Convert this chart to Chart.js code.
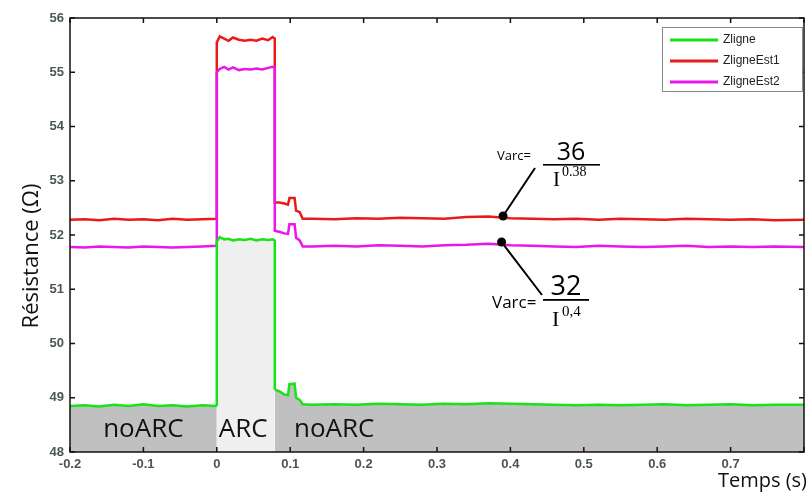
<!DOCTYPE html>
<html>
<head>
<meta charset="utf-8">
<script src="https://cdn.jsdelivr.net/npm/chart.js@4.4.0/dist/chart.umd.min.js"></script>
<style>
  html, body { margin: 0; padding: 0; background: #fff; }
  #wrap { width: 809px; height: 492px; }
</style>
</head>
<body>
<div id="wrap"><canvas id="chart" width="809" height="492"></canvas></div>
<script>
// time axis (s) - duplicated points give the vertical steps at arc start / end
const time = [
  -0.2, -0.18, -0.16, -0.14, -0.12, -0.1, -0.08, -0.06, -0.04, -0.02, 0,
  0, 0.004, 0.01, 0.016, 0.022, 0.03, 0.038, 0.046, 0.054, 0.062, 0.07, 0.076, 0.079,
  0.079, 0.085, 0.092, 0.097, 0.099, 0.106, 0.108, 0.113, 0.117,
  0.13, 0.16, 0.19, 0.22, 0.25, 0.28, 0.31, 0.34, 0.37, 0.40, 0.43, 0.46, 0.49,
  0.52, 0.55, 0.58, 0.61, 0.64, 0.67, 0.70, 0.73, 0.76, 0.8
];

const zligne = [
  48.85, 48.86, 48.84, 48.87, 48.85, 48.88, 48.85, 48.86, 48.84, 48.86, 48.85,
  51.88, 51.96, 51.92, 51.93, 51.90, 51.92, 51.91, 51.93, 51.90, 51.92, 51.91, 51.92, 51.90,
  49.15, 49.12, 49.06, 49.05, 49.25, 49.26, 49.00, 48.96, 48.88,
  48.87, 48.88, 48.87, 48.89, 48.88, 48.87, 48.89, 48.88, 48.90, 48.89, 48.88, 48.87, 48.86,
  48.87, 48.86, 48.87, 48.88, 48.86, 48.87, 48.88, 48.86, 48.87, 48.87
];

const zligneEst1 = [
  52.28, 52.29, 52.27, 52.30, 52.28, 52.29, 52.27, 52.30, 52.28, 52.29, 52.30,
  55.55, 55.66, 55.62, 55.58, 55.64, 55.60, 55.58, 55.60, 55.58, 55.62, 55.59, 55.65, 55.62,
  52.60, 52.60, 52.58, 52.56, 52.68, 52.68, 52.45, 52.42, 52.30,
  52.30, 52.29, 52.31, 52.30, 52.32, 52.31, 52.30, 52.33, 52.34, 52.31, 52.30, 52.29, 52.30,
  52.28, 52.30, 52.29, 52.28, 52.30, 52.29, 52.28, 52.29, 52.27, 52.28
];

const zligneEst2 = [
  51.78, 51.77, 51.79, 51.78, 51.77, 51.79, 51.78, 51.77, 51.78, 51.79, 51.80,
  55.00, 55.06, 55.10, 55.05, 55.09, 55.04, 55.06, 55.05, 55.07, 55.05, 55.08, 55.10, 55.08,
  52.08, 52.06, 52.03, 52.02, 52.20, 52.20, 51.95, 51.90, 51.79,
  51.79, 51.80, 51.79, 51.81, 51.80, 51.79, 51.81, 51.82, 51.84, 51.81, 51.80, 51.79, 51.78,
  51.80, 51.79, 51.78, 51.79, 51.80, 51.78, 51.79, 51.78, 51.79, 51.78
];

const seriesNames = ['Zligne', 'ZligneEst1', 'ZligneEst2'];
const seriesColors = ['#17e317', '#ea1a1a', '#ea17ea'];

// arc window and the two marked points
const arcStart = 0;
const arcEnd = 0.079;
const markerTime = [0.39, 0.388];
const markerValue = [52.35, 51.87];

const xTicks = [-0.2, -0.1, 0, 0.1, 0.2, 0.3, 0.4, 0.5, 0.6, 0.7, 0.8];
const yTicks = [48, 49, 50, 51, 52, 53, 54, 55, 56];

function toPoints(values) {
  return values.map((v, i) => ({ x: time[i], y: v }));
}

function inArc(ctx) {
  return ctx.p0.parsed.x >= arcStart && ctx.p1.parsed.x <= arcEnd + 0.0005;
}

// box, inward ticks, legend, annotations
const decorations = {
  id: 'decorations',
  afterDraw(chart) {
    const { ctx, chartArea: a, scales } = chart;
    const xs = scales.x, ys = scales.y;
    ctx.save();

    // region labels
    ctx.fillStyle = '#111';
    ctx.font = '26px "Open Sans"';
    ctx.textAlign = 'center';
    ctx.textBaseline = 'alphabetic';
    ctx.fillText('noARC', xs.getPixelForValue(-0.1), 437);
    ctx.fillText('ARC', xs.getPixelForValue(0.036), 437);
    ctx.fillText('noARC', xs.getPixelForValue(0.16), 437);

    // plot box
    ctx.strokeStyle = '#111';
    ctx.lineWidth = 1.5;
    ctx.strokeRect(a.left, a.top, a.right - a.left, a.bottom - a.top);

    // inward ticks
    ctx.beginPath();
    xTicks.forEach(t => {
      const px = xs.getPixelForValue(t);
      ctx.moveTo(px, a.bottom); ctx.lineTo(px, a.bottom - 5);
      ctx.moveTo(px, a.top); ctx.lineTo(px, a.top + 5);
    });
    yTicks.forEach(v => {
      const py = ys.getPixelForValue(v);
      ctx.moveTo(a.left, py); ctx.lineTo(a.left + 5, py);
      ctx.moveTo(a.right, py); ctx.lineTo(a.right - 5, py);
    });
    ctx.stroke();

    // marker dots + leader lines
    const p1 = { x: xs.getPixelForValue(markerTime[0]), y: ys.getPixelForValue(markerValue[0]) };
    const p2 = { x: xs.getPixelForValue(markerTime[1]), y: ys.getPixelForValue(markerValue[1]) };
    ctx.strokeStyle = '#000';
    ctx.lineWidth = 2;
    ctx.beginPath();
    ctx.moveTo(p1.x, p1.y); ctx.lineTo(535, 168);
    ctx.moveTo(p2.x, p2.y); ctx.lineTo(542, 295);
    ctx.stroke();
    ctx.fillStyle = '#000';
    [p1, p2].forEach(p => {
      ctx.beginPath();
      ctx.arc(p.x, p.y, 4.5, 0, Math.PI * 2);
      ctx.fill();
    });

    // formula 1
    ctx.textAlign = 'left';
    ctx.font = '13px "Open Sans"';
    ctx.fillText('Varc=', 497, 160);
    ctx.fillRect(543, 164, 57, 1.6);
    ctx.textAlign = 'center';
    ctx.font = '25px "Open Sans"';
    ctx.fillText('36', 571, 160);
    ctx.textAlign = 'left';
    ctx.font = '21px "Liberation Serif"';
    ctx.fillText('I', 553, 186);
    ctx.font = '14px "Liberation Serif"';
    ctx.fillText('0.38', 562, 176);

    // formula 2
    ctx.font = '17px "Open Sans"';
    ctx.fillText('Varc=', 492, 308);
    ctx.fillRect(543, 299, 46, 1.8);
    ctx.textAlign = 'center';
    ctx.font = '27px "Open Sans"';
    ctx.fillText('32', 566, 295);
    ctx.textAlign = 'left';
    ctx.font = '22px "Liberation Serif"';
    ctx.fillText('I', 552, 326);
    ctx.font = '15px "Liberation Serif"';
    ctx.fillText('0,4', 562, 316);

    // legend
    ctx.fillStyle = '#fff';
    ctx.fillRect(662, 27, 140, 64);
    ctx.strokeStyle = '#8a8a8a';
    ctx.lineWidth = 1;
    ctx.strokeRect(662.5, 27.5, 140, 64);
    ctx.font = '12px "Liberation Sans"';
    ctx.textBaseline = 'middle';
    seriesNames.forEach((name, i) => {
      const y = 40 + i * 21;
      ctx.strokeStyle = seriesColors[i];
      ctx.lineWidth = 3;
      ctx.beginPath();
      ctx.moveTo(670, y); ctx.lineTo(718, y);
      ctx.stroke();
      ctx.fillStyle = '#222';
      ctx.fillText(name, 723, y);
    });

    // axis titles
    ctx.fillStyle = '#111';
    ctx.textBaseline = 'alphabetic';
    ctx.font = '20px "Open Sans"';
    ctx.textAlign = 'right';
    ctx.fillText('Temps (s)', 807, 487);
    ctx.save();
    ctx.translate(38, 256);
    ctx.rotate(-Math.PI / 2);
    ctx.textAlign = 'center';
    ctx.font = '22px "Open Sans"';
    ctx.fillText('Résistance (Ω)', 0, 0);
    ctx.restore();

    ctx.restore();
  }
};

const ctx = document.getElementById('chart').getContext('2d');
new Chart(ctx, {
  type: 'line',
  data: {
    datasets: [
      {
        label: seriesNames[0],
        data: toPoints(zligne),
        borderColor: seriesColors[0],
        borderWidth: 2.5,
        fill: 'start',
        backgroundColor: '#c0c0c0',
        segment: {
          backgroundColor: c => inArc(c) ? '#efefef' : '#c0c0c0'
        }
      },
      {
        label: seriesNames[2],
        data: toPoints(zligneEst2),
        borderColor: seriesColors[2],
        borderWidth: 2.5,
        fill: false
      },
      {
        label: seriesNames[1],
        data: toPoints(zligneEst1),
        borderColor: seriesColors[1],
        borderWidth: 2.5,
        fill: false
      }
    ]
  },
  options: {
    responsive: false,
    animation: false,
    events: [],
    elements: { point: { radius: 0 }, line: { tension: 0 } },
    layout: { padding: { top: 18, right: 2, left: 0, bottom: 0 } },
    plugins: { legend: { display: false }, tooltip: { enabled: false } },
    scales: {
      x: {
        type: 'linear',
        min: -0.2,
        max: 0.8,
        afterFit: s => { s.height = 40; },
        afterBuildTicks: s => { s.ticks = xTicks.map(v => ({ value: v })); },
        grid: { display: false, drawTicks: false },
        border: { display: false },
        ticks: {
          padding: 5,
          color: '#4a5656',
          font: { family: 'Liberation Sans', size: 13, weight: 'bold' },
          maxRotation: 0,
          autoSkip: false,
          callback: v => Math.abs(v - 0.8) < 1e-9 ? '' : String(Math.round(v * 10) / 10)
        }
      },
      y: {
        min: 48,
        max: 56,
        afterFit: s => { s.width = 70; },
        afterBuildTicks: s => { s.ticks = yTicks.map(v => ({ value: v })); },
        grid: { display: false, drawTicks: false },
        border: { display: false },
        ticks: {
          padding: 6,
          color: '#4a5656',
          font: { family: 'Liberation Sans', size: 13, weight: 'bold' },
          autoSkip: false
        }
      }
    }
  },
  plugins: [decorations]
});
</script>
</body>
</html>
